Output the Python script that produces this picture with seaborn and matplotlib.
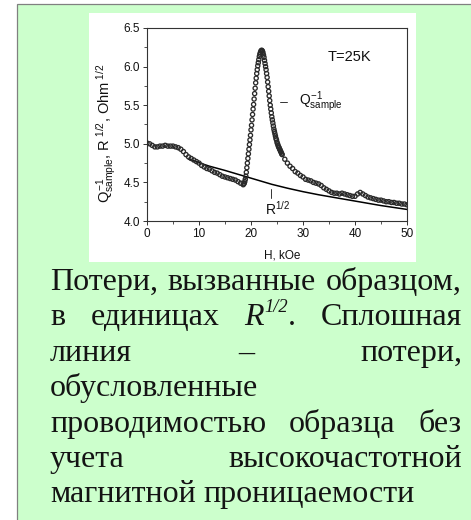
import matplotlib
matplotlib.use("Agg")
import matplotlib.pyplot as plt
from matplotlib.patches import Rectangle
from matplotlib.ticker import MultipleLocator
import pandas as pd
import seaborn as sns

# Measured loss Q^-1 of the sample vs field H (kOe), in units of R^1/2
field_low = [0.0, 0.5, 1.0, 1.5, 2.0, 2.5, 3.0, 3.5, 4.0, 4.5, 5.0, 5.5, 6.0, 6.5,
             7.0, 7.5, 8.0, 8.5, 9.0, 9.5, 10.0, 10.5, 11.0, 11.5, 12.0, 12.5,
             13.0, 13.5, 14.0, 14.5, 15.0, 15.5, 16.0, 16.5, 17.0, 17.5, 18.0, 18.5]
q_low = [5.01, 5.00, 4.98, 4.96, 4.96, 4.97, 4.97, 4.98, 4.97, 4.97, 4.97, 4.96,
         4.95, 4.93, 4.90, 4.86, 4.83, 4.81, 4.79, 4.77, 4.75, 4.72, 4.70, 4.68,
         4.67, 4.65, 4.63, 4.62, 4.60, 4.58, 4.57, 4.56, 4.55, 4.54, 4.53, 4.51,
         4.49, 4.47]

field_peak = [18.6, 18.7, 18.8, 18.9, 19.0, 19.1, 19.2, 19.3, 19.4, 19.5, 19.6,
              19.7, 19.8, 19.9, 20.0, 20.1, 20.2, 20.3, 20.4, 20.5, 20.6, 20.7,
              20.8, 20.9, 21.0, 21.1, 21.2, 21.3, 21.4, 21.5, 21.6, 21.7, 21.8,
              21.9, 22.0, 22.1, 22.2, 22.3, 22.4, 22.5, 22.6, 22.7, 22.8, 22.9,
              23.0, 23.1, 23.2, 23.3, 23.4, 23.5, 23.6, 23.7, 23.8, 23.9, 24.0,
              24.1, 24.2, 24.3, 24.4, 24.5, 24.6, 24.7, 24.8, 24.9, 25.0, 25.1,
              25.2, 25.3, 25.4, 25.5, 25.6, 25.7, 25.8, 25.9, 26.0]
q_peak = [4.48, 4.49, 4.51, 4.54, 4.58, 4.63, 4.69, 4.75, 4.81, 4.87, 4.93,
          4.99, 5.05, 5.11, 5.18, 5.24, 5.31, 5.38, 5.45, 5.51, 5.58, 5.65,
          5.72, 5.79, 5.85, 5.91, 5.96, 6.01, 6.05, 6.09, 6.13, 6.16, 6.18,
          6.20, 6.21, 6.21, 6.20, 6.18, 6.15, 6.12, 6.08, 6.04, 6.00, 5.96,
          5.91, 5.86, 5.80, 5.74, 5.68, 5.62, 5.56, 5.50, 5.45, 5.40, 5.35,
          5.31, 5.27, 5.23, 5.19, 5.16, 5.13, 5.10, 5.07, 5.05, 5.02, 5.00,
          4.98, 4.96, 4.95, 4.93, 4.92, 4.90, 4.89, 4.87, 4.86]

field_high = [26.5, 27.0, 27.5, 28.0, 28.5, 29.0, 29.5, 30.0, 30.5, 31.0, 31.5,
              32.0, 32.5, 33.0, 33.5, 34.0, 34.5, 35.0, 35.5, 36.0, 36.5, 37.0,
              37.5, 38.0, 38.5, 39.0, 39.5, 40.0, 40.5, 41.0, 41.5, 42.0, 42.5,
              43.0, 43.5, 44.0, 44.5, 45.0, 45.5, 46.0, 46.5, 47.0, 47.5, 48.0,
              48.5, 49.0, 49.5, 50.0]
q_high = [4.80, 4.75, 4.71, 4.68, 4.64, 4.62, 4.59, 4.57, 4.54, 4.53, 4.52,
          4.50, 4.49, 4.48, 4.46, 4.43, 4.41, 4.39, 4.37, 4.36, 4.36, 4.35,
          4.36, 4.35, 4.34, 4.33, 4.32, 4.32, 4.35, 4.37, 4.35, 4.33, 4.31,
          4.30, 4.29, 4.28, 4.27, 4.27, 4.26, 4.25, 4.25, 4.24, 4.24, 4.23,
          4.23, 4.22, 4.22, 4.21]

# Conductivity loss R^1/2 (solid line)
field_r = [8, 10, 12, 15, 18, 21, 24, 27, 30, 33, 36, 39, 42, 45, 48, 50]
r_half = [4.80, 4.755, 4.71, 4.655, 4.595, 4.535, 4.475, 4.425, 4.38, 4.34,
          4.305, 4.27, 4.235, 4.20, 4.17, 4.15]

x_ticks = [0, 10, 20, 30, 40, 50]
y_ticks = [4.0, 4.5, 5.0, 5.5, 6.0, 6.5]

# caption words; a word given as a list is built from (text, style, scale, rise) pieces
R_HALF = [("R", "italic", 1.0, 0.0), ("1/2", "italic", 0.58, 0.42), (".", "normal", 1.0, 0.0)]
caption_lines = [
    (["Потери,", "вызванные", "образцом,"], True),
    (["в", "единицах", R_HALF, "Сплошная"], True),
    (["линия", "–", "потери,"], True),
    (["обусловленные"], False),
    (["проводимостью", "образца", "без"], True),
    (["учета", "высокочастотной"], True),
    (["магнитной", "проницаемости"], False),
]

sns.set_style("ticks")
plt.rcParams["font.family"] = ["Liberation Sans", "DejaVu Sans"]
plt.rcParams["mathtext.fontset"] = "custom"
plt.rcParams["mathtext.rm"] = "Liberation Sans"
plt.rcParams["mathtext.it"] = "Liberation Sans"
plt.rcParams["mathtext.bf"] = "Liberation Sans:bold"

W, H = 471, 520
fig = plt.figure(figsize=(W / 100, H / 100), dpi=100, facecolor="white")


def fx(px):
    return px / W


def fy(py):
    return 1 - py / H


# green panel with a grey frame on its left and top edges
fig.patches.append(Rectangle((fx(16.5), -0.2), 1.3, fy(3.5) + 0.2,
                             transform=fig.transFigure, facecolor="#ccffcc",
                             edgecolor="#808080", linewidth=0.9, zorder=-2))
# white plot card
fig.patches.append(Rectangle((fx(89), fy(262)), fx(416) - fx(89), fy(13) - fy(262),
                             transform=fig.transFigure, facecolor="white",
                             edgecolor="none", zorder=-1))

ax = fig.add_axes([fx(147), fy(221), fx(407) - fx(147), fy(28) - fy(221)])
ax.set_zorder(2)
ax.set_facecolor("white")

meas = pd.DataFrame({
    "H": field_low + field_peak + field_high,
    "Q": q_low + q_peak + q_high,
})
cond = pd.DataFrame({"H": field_r, "R": r_half})

sns.lineplot(data=cond, x="H", y="R", ax=ax, color="black", linewidth=1.1,
             zorder=2)
sns.scatterplot(data=meas, x="H", y="Q", ax=ax, marker="o", s=9,
                facecolors="none", edgecolor="#2a2a2a", linewidth=0.95,
                zorder=3)

ax.set_xlim(0, 50)
ax.set_ylim(4.0, 6.5)
ax.set_xticks(x_ticks)
ax.set_xticklabels([str(v) for v in x_ticks])
ax.set_yticks(y_ticks)
ax.set_yticklabels([f"{v:.1f}" for v in y_ticks])
ax.xaxis.set_minor_locator(MultipleLocator(5))
ax.yaxis.set_minor_locator(MultipleLocator(0.25))
ax.tick_params(which="major", direction="out", length=3, width=0.7,
               labelsize=8.5, pad=2, color="#333333", labelcolor="#111111")
ax.tick_params(which="minor", direction="out", length=2, width=0.6,
               color="#333333")
for sp in ax.spines.values():
    sp.set_visible(True)
    sp.set_color("#333333")
    sp.set_linewidth(0.8)

ax.set_xlabel("H, kOe", fontsize=8.5, color="#111111")
ax.xaxis.set_label_coords(0.52, -0.15)
ax.set_ylabel(r"$Q^{-1}_{sample}$, R$^{\ 1/2}$, Ohm$^{\ 1/2}$", fontsize=10.5,
              color="#111111")
ax.yaxis.set_label_coords(-0.112, 0.455)

ax.text(0.78, 0.85, "T=25K", transform=ax.transAxes, fontsize=10.5,
        ha="center", va="center", color="#111111")
ax.plot([0.513, 0.54], [0.617, 0.617], transform=ax.transAxes, color="#333333",
        linewidth=0.7)
ax.text(0.585, 0.62, r"$Q^{-1}_{sample}$", transform=ax.transAxes,
        fontsize=10, ha="left", va="center", color="#111111")
ax.plot([0.477, 0.477], [0.12, 0.165], transform=ax.transAxes, color="#333333",
        linewidth=0.7)
ax.text(0.455, 0.035, r"R$^{1/2}$", transform=ax.transAxes, fontsize=10,
        ha="left", va="baseline", color="#111111")

# justified caption under the card
renderer = fig.canvas.get_renderer()
FS = 23
em_px = FS * 100 / 72
left_px, right_px = 50, 462
base0, step = 290, 35.4
for i, (words, justify) in enumerate(caption_lines):
    base = base0 + i * step
    word_items = []
    for w in words:
        pieces = w if isinstance(w, list) else [(w, "normal", 1.0, 0.0)]
        parts = []
        for text, style, scale, rise in pieces:
            t = fig.text(0, fy(base - rise * em_px), text, fontsize=FS * scale,
                         family="Liberation Serif", style=style,
                         color="#141414", ha="left", va="baseline", zorder=5)
            parts.append((t, t.get_window_extent(renderer).width))
        word_items.append(parts)
    widths = [sum(wd for _, wd in parts) for parts in word_items]
    if justify and len(word_items) > 1:
        gap = (right_px - left_px - sum(widths)) / (len(word_items) - 1)
    else:
        gap = em_px * 0.25
    x = left_px
    for parts, wd in zip(word_items, widths):
        px = x
        for t, pw in parts:
            t.set_x(fx(px))
            px += pw
        x += wd + gap

fig.savefig("out.png", dpi=100, facecolor=fig.get_facecolor())
